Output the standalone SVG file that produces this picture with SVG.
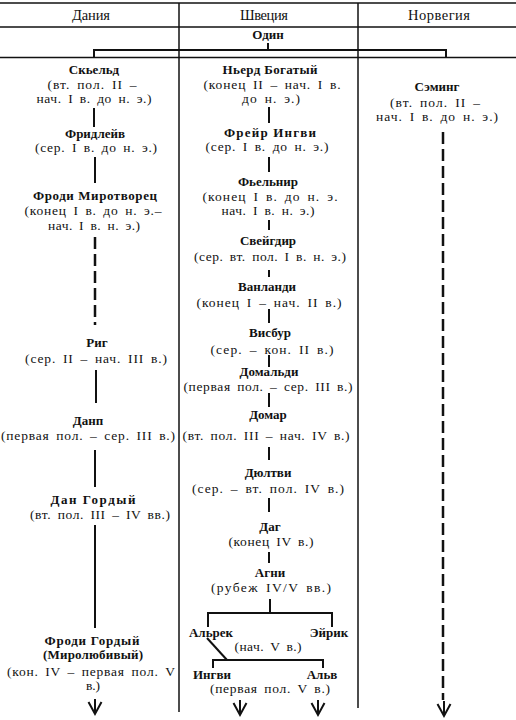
<svg xmlns="http://www.w3.org/2000/svg" xmlns:xlink="http://www.w3.org/1999/xlink" width="516" height="720" viewBox="0 0 516 720">
<style>
text{font-family:"Liberation Serif","DejaVu Serif",serif;fill:#111;text-anchor:middle}
.h{font-size:14.5px}
.n{font-size:13px;font-weight:bold}
.d{font-size:13.5px;word-spacing:2.5px}
.rule{stroke:#111;stroke-width:1.5;fill:none}
.c{stroke:#111;stroke-width:2;fill:none}
.dash{stroke:#111;stroke-width:2.5;fill:none;stroke-dasharray:12 5}
</style>
<defs>
<path id="arr" d="M0,-15 V0 M-6.5,-12 L0,0 L6.5,-12" stroke="#111" stroke-width="2" fill="none"/>
</defs>
<rect width="516" height="720" fill="#fff"/>
<g id="table">
<line class="rule" x1="0" y1="3" x2="516" y2="3"/>
<line class="rule" x1="0" y1="27" x2="516" y2="27"/>
<line class="rule" x1="0" y1="57.5" x2="516" y2="57.5"/>
<line class="rule" x1="179" y1="3" x2="179" y2="712"/>
<line class="rule" x1="358" y1="3" x2="358" y2="708"/>
<text class="h" x="91" y="20" textLength="38" lengthAdjust="spacing">Дания</text>
<text class="h" x="264" y="20" textLength="48" lengthAdjust="spacing">Швеция</text>
<text class="h" x="439" y="20" textLength="62" lengthAdjust="spacing">Норвегия</text>
</g>
<g id="connectors">
<path class="c" d="M268,43 V50 M94,57 V50 H446 V57"/>
<line class="c" x1="94" y1="108" x2="94" y2="127"/>
<line class="c" x1="95" y1="157" x2="95" y2="183"/>
<line class="dash" x1="95" y1="237" x2="95" y2="325"/>
<line class="c" x1="96" y1="370" x2="96" y2="403"/>
<line class="c" x1="95" y1="450" x2="95" y2="487"/>
<line class="c" x1="95" y1="525" x2="95" y2="628"/>
<line class="c" x1="269" y1="107" x2="269" y2="123"/>
<line class="c" x1="269" y1="157" x2="269" y2="172"/>
<line class="c" x1="269" y1="220" x2="269" y2="230"/>
<line class="c" x1="269" y1="270" x2="269" y2="277"/>
<line class="c" x1="269" y1="309" x2="269" y2="323"/>
<line class="c" x1="269" y1="355" x2="269" y2="367"/>
<line class="c" x1="269" y1="393" x2="269" y2="407"/>
<line class="c" x1="269" y1="447" x2="269" y2="460"/>
<line class="c" x1="269" y1="498" x2="269" y2="512"/>
<line class="c" x1="269" y1="552" x2="269" y2="563"/>
<path class="c" d="M270,599 V613 M208,627 V613 H332 V627"/>
<line class="c" x1="207" y1="638" x2="227" y2="660"/>
<path class="c" d="M213,668 V660 H323 V668"/>
<line class="dash" x1="443" y1="132" x2="443" y2="700"/>
<use xlink:href="#arr" x="95" y="714"/>
<use xlink:href="#arr" x="240" y="715"/>
<use xlink:href="#arr" x="318" y="715"/>
<use xlink:href="#arr" x="444" y="716"/>
</g>
<g id="odin"><text class="n" x="268" y="39">Один</text></g>
<g id="skjold"><text class="n" x="94" y="74">Скьельд</text><text class="d" x="92" y="89" textLength="89" lengthAdjust="spacing">(вт. пол. II –</text><text class="d" x="94" y="103" textLength="115" lengthAdjust="spacing">нач. I в. до н. э.)</text></g>
<g id="fridleif"><text class="n" x="95" y="138">Фридлейв</text><text class="d" x="96" y="152" textLength="122" lengthAdjust="spacing">(сер. I в. до н. э.)</text></g>
<g id="frodi-peace"><text class="n" x="95" y="200" textLength="124" lengthAdjust="spacing">Фроди Миротворец</text><text class="d" x="93" y="215" textLength="137" lengthAdjust="spacing">(конец I в. до н. э.–</text><text class="d" x="94" y="230" textLength="92" lengthAdjust="spacing">нач. I в. н. э.)</text></g>
<g id="rig"><text class="n" x="97" y="347">Риг</text><text class="d" x="96" y="363" textLength="142" lengthAdjust="spacing">(сер. II – нач. III в.)</text></g>
<g id="danp"><text class="n" x="88" y="425">Данп</text><text class="d" x="88" y="440" textLength="174" lengthAdjust="spacing">(первая пол. – сер. III в.)</text></g>
<g id="dan"><text class="n" x="93" y="504" textLength="85" lengthAdjust="spacing">Дан Гордый</text><text class="d" x="100" y="519" textLength="140" lengthAdjust="spacing">(вт. пол. III – IV вв.)</text></g>
<g id="frodi-proud"><text class="n" x="92" y="645" textLength="95" lengthAdjust="spacing">Фроди Гордый</text><text class="n" x="93" y="659" textLength="100" lengthAdjust="spacing">(Миролюбивый)</text><text class="d" x="91" y="676" textLength="168" lengthAdjust="spacing">(кон. IV – первая пол. V</text><text class="d" x="93" y="690">в.)</text></g>
<g id="njord"><text class="n" x="270" y="74" textLength="95" lengthAdjust="spacing">Ньерд Богатый</text><text class="d" x="272" y="89" textLength="137" lengthAdjust="spacing">(конец II – нач. I в.</text><text class="d" x="271" y="103" textLength="58" lengthAdjust="spacing">до н. э.)</text></g>
<g id="freyr"><text class="n" x="270" y="137" textLength="92" lengthAdjust="spacing">Фрейр Ингви</text><text class="d" x="267" y="151" textLength="123" lengthAdjust="spacing">(сер. I в. до н. э.)</text></g>
<g id="fjolnir"><text class="n" x="268" y="186">Фьельнир</text><text class="d" x="270" y="201" textLength="135" lengthAdjust="spacing">(конец I в. до н. э.</text><text class="d" x="268" y="215" textLength="93" lengthAdjust="spacing">нач. I в. н. э.)</text></g>
<g id="sveigdir"><text class="n" x="268" y="245">Свейгдир</text><text class="d" x="270" y="261" textLength="152" lengthAdjust="spacing">(сер. вт. пол. I в. н. э.)</text></g>
<g id="vanlandi"><text class="n" x="267" y="291">Ванланди</text><text class="d" x="269" y="307" textLength="145" lengthAdjust="spacing">(конец I – нач. II в.)</text></g>
<g id="visbur"><text class="n" x="270" y="337">Висбур</text><text class="d" x="272" y="354" textLength="123" lengthAdjust="spacing">(сер. – кон. II в.)</text></g>
<g id="domaldi"><text class="n" x="269" y="376">Домальди</text><text class="d" x="268" y="391" textLength="169" lengthAdjust="spacing">(первая пол. – сер. III в.)</text></g>
<g id="domar"><text class="n" x="268" y="419">Домар</text><text class="d" x="266" y="440" textLength="167" lengthAdjust="spacing">(вт. пол. III – нач. IV в.)</text></g>
<g id="dyggvi"><text class="n" x="268" y="477">Дюлтви</text><text class="d" x="268" y="493" textLength="152" lengthAdjust="spacing">(сер. – вт. пол. IV в.)</text></g>
<g id="dag"><text class="n" x="270" y="531">Даг</text><text class="d" x="271" y="546" textLength="85" lengthAdjust="spacing">(конец IV в.)</text></g>
<g id="agni"><text class="n" x="270" y="577">Агни</text><text class="d" x="271" y="592" textLength="120" lengthAdjust="spacing">(рубеж IV/V вв.)</text></g>
<g id="alrek"><text class="n" x="211" y="637">Альрек</text></g>
<g id="eirik"><text class="n" x="329" y="637">Эйрик</text></g>
<g id="alrek-eirik-date"><text class="d" x="268" y="651" textLength="67" lengthAdjust="spacing">(нач. V в.)</text></g>
<g id="yngvi"><text class="n" x="212" y="679">Ингви</text></g>
<g id="alf"><text class="n" x="322" y="679">Альв</text></g>
<g id="yngvi-alf-date"><text class="d" x="270" y="693" textLength="120" lengthAdjust="spacing">(первая пол. V в.)</text></g>
<g id="saeming"><text class="n" x="437" y="91">Сэминг</text><text class="d" x="435" y="107" textLength="90" lengthAdjust="spacing">(вт. пол. II –</text><text class="d" x="437" y="121" textLength="122" lengthAdjust="spacing">нач. I в. до н. э.)</text></g>
</svg>
